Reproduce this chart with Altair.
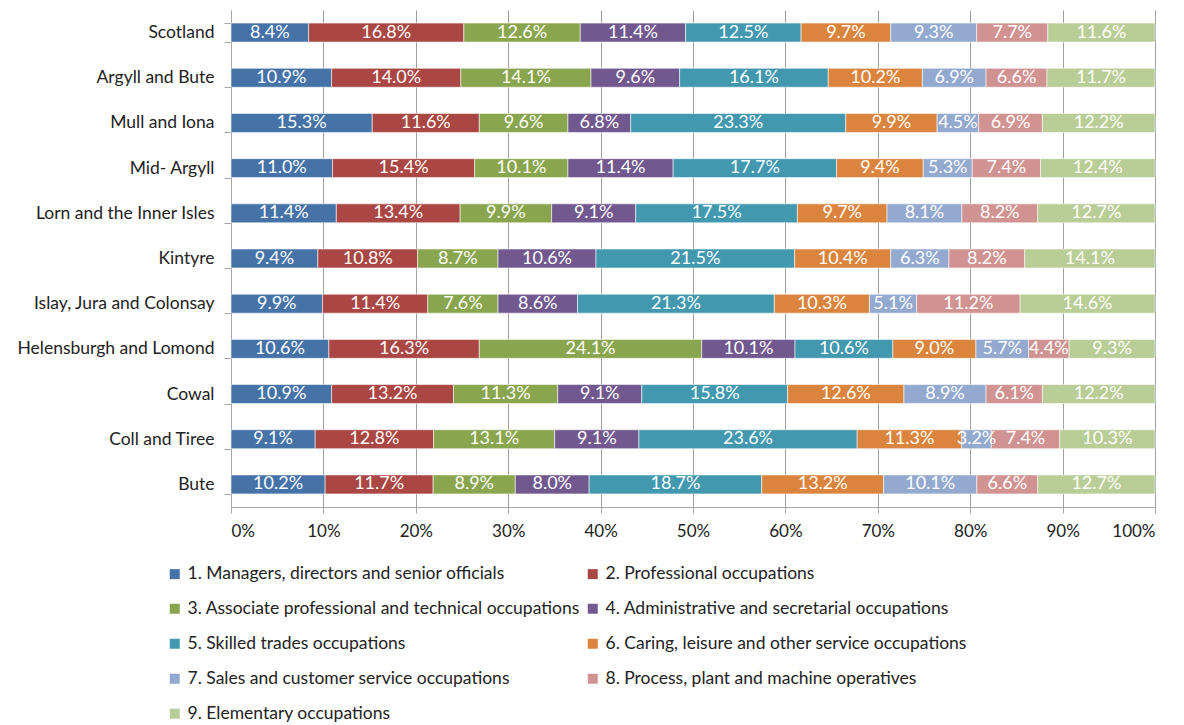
import altair as alt
import pandas as pd

areas = ["Scotland", "Argyll and Bute", "Mull and Iona", "Mid- Argyll",
         "Lorn and the Inner Isles", "Kintyre", "Islay, Jura and Colonsay",
         "Helensburgh and Lomond", "Cowal", "Coll and Tiree", "Bute"]

series = ["1. Managers, directors and senior officials",
          "2. Professional occupations",
          "3. Associate professional and technical occupations",
          "4. Administrative and secretarial occupations",
          "5. Skilled trades occupations",
          "6. Caring, leisure and other service occupations",
          "7. Sales and customer service occupations",
          "8. Process, plant and machine operatives",
          "9. Elementary occupations"]

managers = [8.4, 10.9, 15.3, 11.0, 11.4, 9.4, 9.9, 10.6, 10.9, 9.1, 10.2]
professional = [16.8, 14.0, 11.6, 15.4, 13.4, 10.8, 11.4, 16.3, 13.2, 12.8, 11.7]
associate = [12.6, 14.1, 9.6, 10.1, 9.9, 8.7, 7.6, 24.1, 11.3, 13.1, 8.9]
administrative = [11.4, 9.6, 6.8, 11.4, 9.1, 10.6, 8.6, 10.1, 9.1, 9.1, 8.0]
skilled = [12.5, 16.1, 23.3, 17.7, 17.5, 21.5, 21.3, 10.6, 15.8, 23.6, 18.7]
caring = [9.7, 10.2, 9.9, 9.4, 9.7, 10.4, 10.3, 9.0, 12.6, 11.3, 13.2]
sales = [9.3, 6.9, 4.5, 5.3, 8.1, 6.3, 5.1, 5.7, 8.9, 3.2, 10.1]
process = [7.7, 6.6, 6.9, 7.4, 8.2, 8.2, 11.2, 4.4, 6.1, 7.4, 6.6]
elementary = [11.6, 11.7, 12.2, 12.4, 12.7, 14.1, 14.6, 9.3, 12.2, 10.3, 12.7]

colors = ["#4572A7", "#AA4643", "#89A54E", "#71588F", "#4198AF",
          "#DB843D", "#93A9CF", "#D19392", "#B9CD96"]

all_vals = [managers, professional, associate, administrative, skilled,
            caring, sales, process, elementary]

rows = []
for si, (s, vals) in enumerate(zip(series, all_vals)):
    for a, v in zip(areas, vals):
        rows.append({"area": a, "series": s, "order": si, "value": v,
                     "label": f"{v:.1f}%"})
df = pd.DataFrame(rows)

FONT = "Lato"

base = alt.Chart(df).transform_stack(
    stack="value", groupby=["area"], as_=["x0", "x1"],
    offset="normalize", sort=[alt.SortField("order", order="ascending")]
).transform_calculate(mid="(datum.x0 + datum.x1) / 2")

yenc = alt.Y("area:N", sort=areas, title=None,
             scale=alt.Scale(paddingInner=0.58, paddingOuter=0.29),
             axis=alt.Axis(labelFont=FONT, labelFontSize=17.5, labelColor="#222222",
                           tickBand="extent", tickSize=7, tickColor="#a6a6a6",
                           domainColor="#a6a6a6", labelPadding=10, grid=False,
                           labelLimit=400))

bars = base.mark_bar(stroke="white", strokeWidth=0.8, strokeOpacity=0.7).encode(
    x=alt.X("x0:Q", scale=alt.Scale(domain=[0, 1], nice=False),
            title=None,
            axis=alt.Axis(format=".0%", values=[i / 10 for i in range(11)],
                          labelFont=FONT, labelFontSize=17, labelColor="#222222",
                          grid=True, gridColor="#a0a0a0", tickColor="#a6a6a6",
                          domainColor="#a6a6a6", tickSize=6, labelPadding=10)),
    x2="x1:Q",
    y=yenc,
    color=alt.Color("series:N", sort=series,
                    scale=alt.Scale(domain=series, range=colors),
                    legend=alt.Legend(title=None, orient="none", legendX=-65,
                                      legendY=555, columns=2, direction="horizontal",
                                      symbolType="square",
                                      symbolSize=100, symbolStrokeWidth=0,
                                      labelFont=FONT, labelFontSize=17.5,
                                      labelColor="#222222", rowPadding=16,
                                      columnPadding=4, labelLimit=500,
                                      symbolOffset=0, labelOffset=4)),
    order=alt.Order("order:Q"),
)

text = base.mark_text(color="white", font=FONT, fontSize=18, baseline="middle").encode(
    x="mid:Q",
    y=alt.Y("area:N", sort=areas),
    text="label:N",
)

chart = (bars + text).properties(
    width=924, height=497,
    autosize=alt.AutoSizeParams(type="none"),
    padding={"left": 223, "top": 2, "right": 21, "bottom": 216},
).configure_view(stroke=None)

chart.save("out.html", embed_options={"renderer": "svg", "actions": False})
